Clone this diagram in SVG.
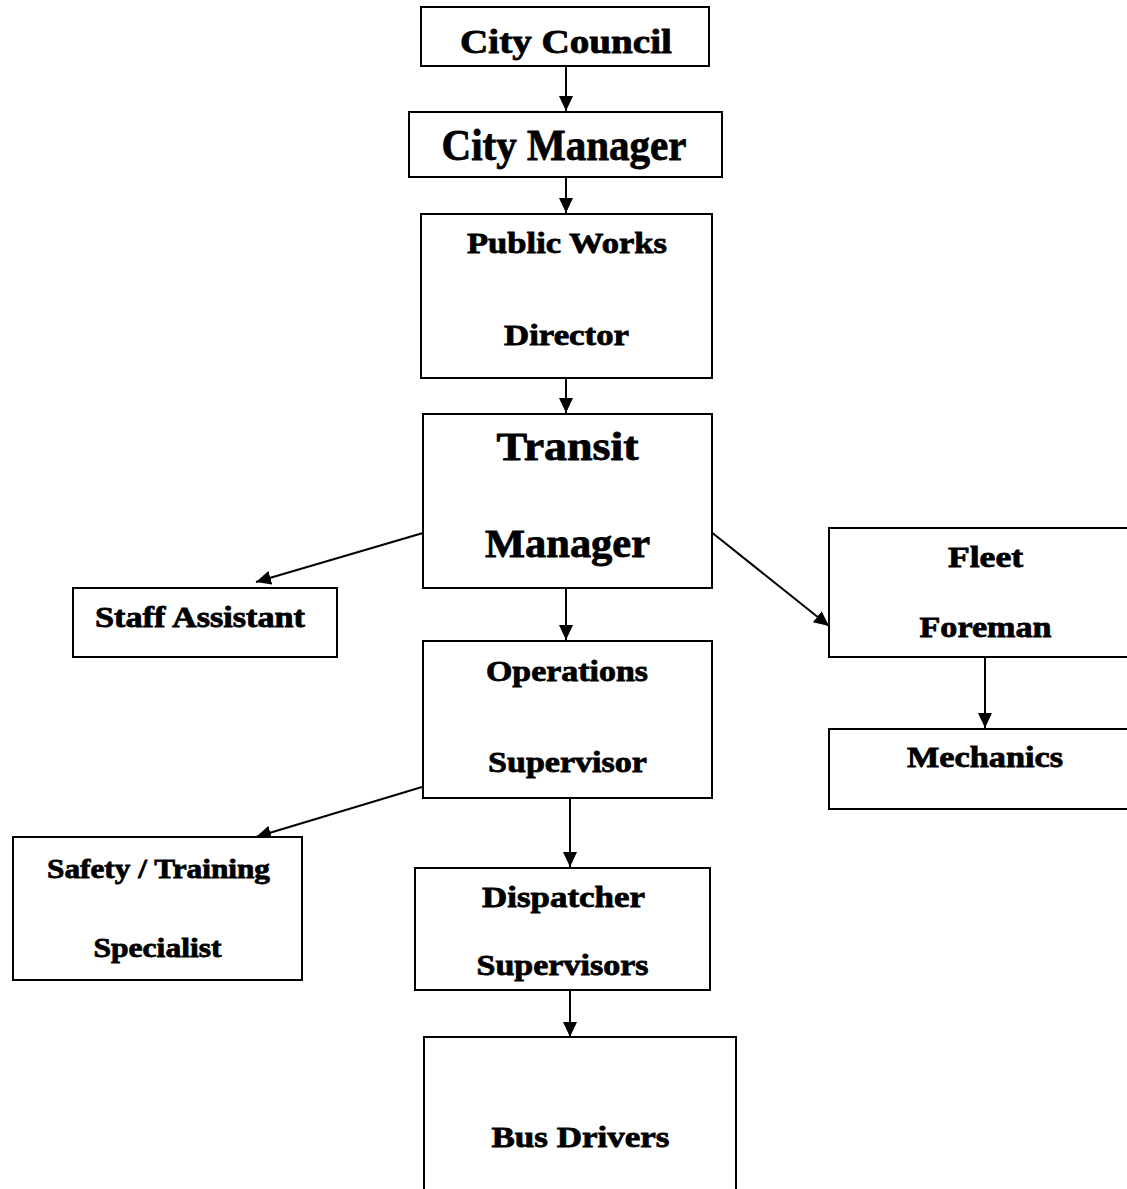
<svg xmlns="http://www.w3.org/2000/svg" width="1127" height="1189" viewBox="0 0 1127 1189">
<style>
.box{fill:#fff;stroke:#000;stroke-width:2}
.t{font-family:"Liberation Serif","Times New Roman",serif;font-weight:bold;fill:#000;stroke:#000;stroke-width:0.8;text-anchor:middle}
.c{stroke:#000;stroke-width:2;fill:none;marker-end:url(#ah)}
</style>
<defs>
<marker id="ah" markerUnits="userSpaceOnUse" markerWidth="16" markerHeight="14" refX="15" refY="7" orient="auto">
<path d="M0,0 L15,7 L0,14 Z" fill="#000"/>
</marker>
</defs>
<rect width="1127" height="1189" fill="#fff"/>
<g id="connectors">
<line class="c" x1="566" y1="66" x2="566" y2="111"/>
<line class="c" x1="566" y1="177" x2="566" y2="213"/>
<line class="c" x1="566" y1="378" x2="566" y2="413"/>
<line class="c" x1="423" y1="533" x2="256" y2="582"/>
<line class="c" x1="710" y1="531" x2="829" y2="626"/>
<line class="c" x1="566" y1="588" x2="566" y2="640"/>
<line class="c" x1="985" y1="657" x2="985" y2="728"/>
<line class="c" x1="422" y1="787" x2="256" y2="837"/>
<line class="c" x1="570" y1="798" x2="570" y2="867"/>
<line class="c" x1="570" y1="990" x2="570" y2="1037"/>
</g>
<g id="city-council">
<rect class="box" x="421" y="7" width="288" height="59"/>
<text class="t" x="566" y="53" font-size="34" textLength="212" lengthAdjust="spacingAndGlyphs">City Council</text>
</g>
<g id="city-manager">
<rect class="box" x="409" y="112" width="313" height="65"/>
<text class="t" x="564" y="160" font-size="44" textLength="245" lengthAdjust="spacingAndGlyphs">City Manager</text>
</g>
<g id="public-works-director">
<rect class="box" x="421" y="214" width="291" height="164"/>
<text class="t" x="567" y="253" font-size="30" textLength="200" lengthAdjust="spacingAndGlyphs">Public Works</text>
<text class="t" x="566.5" y="345" font-size="30" textLength="125" lengthAdjust="spacingAndGlyphs">Director</text>
</g>
<g id="transit-manager">
<rect class="box" x="423" y="414" width="289" height="174"/>
<text class="t" x="567.5" y="460" font-size="40" textLength="142" lengthAdjust="spacingAndGlyphs">Transit</text>
<text class="t" x="567.5" y="557" font-size="40" textLength="165" lengthAdjust="spacingAndGlyphs">Manager</text>
</g>
<g id="staff-assistant">
<rect class="box" x="73" y="588" width="264" height="69"/>
<text class="t" x="200" y="627" font-size="30" textLength="210" lengthAdjust="spacingAndGlyphs">Staff Assistant</text>
</g>
<g id="fleet-foreman">
<rect class="box" x="829" y="528" width="310" height="129"/>
<text class="t" x="985.5" y="567" font-size="30" textLength="75" lengthAdjust="spacingAndGlyphs">Fleet</text>
<text class="t" x="985.5" y="637" font-size="30" textLength="132" lengthAdjust="spacingAndGlyphs">Foreman</text>
</g>
<g id="mechanics">
<rect class="box" x="829" y="729" width="310" height="80"/>
<text class="t" x="985" y="767" font-size="30" textLength="156" lengthAdjust="spacingAndGlyphs">Mechanics</text>
</g>
<g id="operations-supervisor">
<rect class="box" x="423" y="641" width="289" height="157"/>
<text class="t" x="567" y="681" font-size="30" textLength="162" lengthAdjust="spacingAndGlyphs">Operations</text>
<text class="t" x="567.5" y="772" font-size="30" textLength="159" lengthAdjust="spacingAndGlyphs">Supervisor</text>
</g>
<g id="safety-training-specialist">
<rect class="box" x="13" y="837" width="289" height="143"/>
<text class="t" x="158.5" y="878" font-size="28" textLength="223" lengthAdjust="spacingAndGlyphs">Safety / Training</text>
<text class="t" x="157.5" y="957" font-size="28" textLength="128" lengthAdjust="spacingAndGlyphs">Specialist</text>
</g>
<g id="dispatcher-supervisors">
<rect class="box" x="415" y="868" width="295" height="122"/>
<text class="t" x="563.5" y="907" font-size="30" textLength="163" lengthAdjust="spacingAndGlyphs">Dispatcher</text>
<text class="t" x="562.5" y="975" font-size="30" textLength="172" lengthAdjust="spacingAndGlyphs">Supervisors</text>
</g>
<g id="bus-drivers">
<rect class="box" x="424" y="1037" width="312" height="170"/>
<text class="t" x="580.5" y="1147" font-size="30" textLength="178" lengthAdjust="spacingAndGlyphs">Bus Drivers</text>
</g>
</svg>
